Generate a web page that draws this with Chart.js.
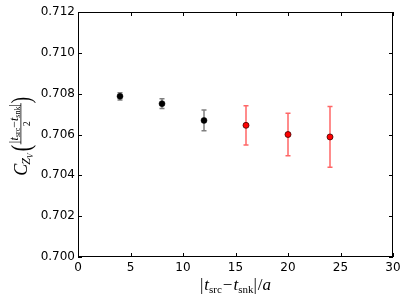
<!DOCTYPE html>
<html>
<head>
<meta charset="utf-8">
<script src="https://cdn.jsdelivr.net/npm/chart.js@4.4.0/dist/chart.umd.min.js"></script>
<style>
html,body{margin:0;padding:0;background:#fff;}
canvas{display:block;}
</style>
</head>
<body>
<canvas id="c" width="407" height="300"></canvas>
<script>
// ---- data ----
const blackX = [4, 8, 12];
const blackY = [0.70787, 0.70751, 0.70669];
const blackErr = [0.00018, 0.00024, 0.00051];
const redX = [16, 20, 24];
const redY = [0.70645, 0.70600, 0.70588];
const redErr = [0.00096, 0.00104, 0.00149];
const xTicks = [0, 5, 10, 15, 20, 25, 30];
const yTicks = [0.700, 0.702, 0.704, 0.706, 0.708, 0.710, 0.712];

function toPoints(xs, ys, es) {
  return xs.map((x, i) => ({x: x, y: ys[i], err: es[i]}));
}

const errorBars = {
  id: 'errorBars',
  beforeDatasetsDraw(chart) {
    const ctx = chart.ctx;
    const xs = chart.scales.x, ys = chart.scales.y;
    chart.data.datasets.forEach(ds => {
      ctx.save();
      ctx.strokeStyle = ds.errColor;
      ctx.lineWidth = 1.5;
      ds.data.forEach(p => {
        const px = xs.getPixelForValue(p.x);
        const t = ys.getPixelForValue(p.y + p.err);
        const b = ys.getPixelForValue(p.y - p.err);
        ctx.beginPath();
        ctx.moveTo(px, t); ctx.lineTo(px, b);
        ctx.moveTo(px - 2.5, t); ctx.lineTo(px + 2.5, t);
        ctx.moveTo(px - 2.5, b); ctx.lineTo(px + 2.5, b);
        ctx.stroke();
      });
      ctx.restore();
    });
  }
};

function drawRuns(ctx, runs, x, y) {
  let cx = x;
  runs.forEach(r => {
    ctx.font = r.f;
    ctx.fillText(r.t, cx, y + (r.dy || 0));
    cx += ctx.measureText(r.t).width + (r.sp || 0);
  });
  return cx - x;
}
function runsWidth(ctx, runs) {
  let w = 0;
  runs.forEach(r => { ctx.font = r.f; w += ctx.measureText(r.t).width + (r.sp || 0); });
  return w;
}

const frame = {
  id: 'frame',
  afterDraw(chart) {
    const ctx = chart.ctx;
    const a = chart.chartArea;
    const xs = chart.scales.x, ys = chart.scales.y;
    ctx.save();
    ctx.strokeStyle = '#000';
    ctx.lineWidth = 1;
    ctx.strokeRect(Math.round(a.left) + 0.5, Math.round(a.top) + 0.5, Math.round(a.right - a.left) - 1, Math.round(a.bottom - a.top) - 1);
    ctx.beginPath();
    const L = 4;
    xTicks.forEach(v => {
      const px = Math.round(xs.getPixelForValue(v)) + 0.5;
      ctx.moveTo(px, a.bottom); ctx.lineTo(px, a.bottom - L);
      ctx.moveTo(px, a.top); ctx.lineTo(px, a.top + L);
    });
    yTicks.forEach(v => {
      const py = Math.round(ys.getPixelForValue(v)) + 0.5;
      ctx.moveTo(a.left, py); ctx.lineTo(a.left + L, py);
      ctx.moveTo(a.right, py); ctx.lineTo(a.right - L, py);
    });
    ctx.stroke();

    // x axis title
    ctx.fillStyle = '#000';
    ctx.textBaseline = 'alphabetic';
    const big = '17px "Liberation Serif"';
    const bigI = 'italic 17px "Liberation Serif"';
    const sub = '11px "Liberation Serif"';
    const xr = [
      {t: '|', f: big, sp: 1},
      {t: 't', f: bigI},
      {t: 'src', f: sub, dy: 3, sp: 1},
      {t: '\u2212', f: big, sp: 1},
      {t: 't', f: bigI},
      {t: 'snk', f: sub, dy: 3},
      {t: '|', f: big, sp: 1},
      {t: '/', f: big},
      {t: 'a', f: bigI}
    ];
    const w = runsWidth(ctx, xr);
    const cxm = (a.left + a.right) / 2;
    drawRuns(ctx, xr, cxm - w / 2, 290);

    // y axis title (rotated)
    ctx.save();
    const cy = (a.top + a.bottom) / 2 + 1;
    ctx.translate(27, cy);
    ctx.rotate(-Math.PI / 2);
    const cF = 'italic 18px "Liberation Serif"';
    const zF = 'italic 12px "Liberation Serif"';
    const vF = 'italic 8px "Liberation Serif"';
    const nI = 'italic 12px "Liberation Serif"';
    const nU = '12px "Liberation Serif"';
    const nS = '8px "Liberation Serif"';
    const parF = '100 25px "DejaVu Serif"';
    const numRuns = [
      {t: '|', f: nU, sp: 0.5},
      {t: 't', f: nI},
      {t: 'src', f: nS, dy: 2},
      {t: '\u2212', f: nU},
      {t: 't', f: nI},
      {t: 'snk', f: nS, dy: 2},
      {t: '|', f: nU}
    ];
    ctx.font = cF; const wC = ctx.measureText('C').width;
    ctx.font = zF; const wZ = ctx.measureText('Z').width;
    ctx.font = vF; const wV = ctx.measureText('V').width;
    const wP = 7;
    const wN = runsWidth(ctx, numRuns);
    const total = wC + wZ + wV + 2 + wP + wN + 2 + wP;
    let x0 = -total / 2;
    ctx.font = cF; ctx.fillText('C', x0, 0); x0 += wC;
    ctx.font = zF; ctx.fillText('Z', x0 - 1, 3); x0 += wZ - 1;
    ctx.font = vF; ctx.fillText('V', x0, 6); x0 += wV + 2;
    // left paren drawn as thin arc-like text scaled
    ctx.save();
    ctx.translate(x0, 3);
    ctx.scale(0.8, 1.15);
    ctx.font = '24px "Liberation Serif"';
    ctx.fillText('(', 0, 0);
    ctx.restore();
    x0 += wP;
    // fraction
    drawRuns(ctx, numRuns, x0 + 1, -9);
    ctx.fillRect(x0, -6.5, wN + 2, 0.8);
    ctx.font = '10px "Liberation Serif"';
    const w2 = ctx.measureText('2').width;
    ctx.fillText('2', x0 + (wN + 2) / 2 - w2 / 2, 3);
    x0 += wN + 2;
    ctx.save();
    ctx.translate(x0, 3);
    ctx.scale(0.8, 1.15);
    ctx.font = '24px "Liberation Serif"';
    ctx.fillText(')', 0, 0);
    ctx.restore();
    ctx.restore();

    ctx.restore();
  }
};

new Chart(document.getElementById('c'), {
  type: 'scatter',
  data: {
    datasets: [
      {
        data: toPoints(blackX, blackY, blackErr),
        backgroundColor: '#000',
        borderColor: '#000',
        borderWidth: 0.5,
        pointRadius: 3,
        errColor: 'rgba(0,0,0,0.5)'
      },
      {
        data: toPoints(redX, redY, redErr),
        backgroundColor: '#ff0000',
        borderColor: '#400000',
        borderWidth: 0.8,
        pointRadius: 3,
        errColor: 'rgba(255,0,0,0.6)'
      }
    ]
  },
  options: {
    responsive: false,
    animation: false,
    layout: {padding: {left: 0, top: 12, right: 14, bottom: 0}},
    plugins: {legend: {display: false}, tooltip: {enabled: false}},
    scales: {
      x: {
        type: 'linear', min: 0, max: 30,
        afterFit: s => { s.height = 43; },
        afterBuildTicks: s => { s.ticks = xTicks.map(v => ({value: v})); },
        grid: {display: false, drawTicks: false},
        border: {display: false},
        ticks: {padding: 4, color: '#000', font: {family: 'DejaVu Sans', size: 12}, maxRotation: 0, autoSkip: false,
          callback: v => String(v)}
      },
      y: {
        type: 'linear', min: 0.700, max: 0.712,
        afterFit: s => { s.width = 78; },
        afterBuildTicks: s => { s.ticks = yTicks.map(v => ({value: v})); },
        grid: {display: false, drawTicks: false},
        border: {display: false},
        ticks: {padding: 3, color: '#000', font: {family: 'DejaVu Sans', size: 12}, autoSkip: false,
          callback: v => Number(v).toFixed(3)}
      }
    }
  },
  plugins: [errorBars, frame]
});
</script>
</body>
</html>
